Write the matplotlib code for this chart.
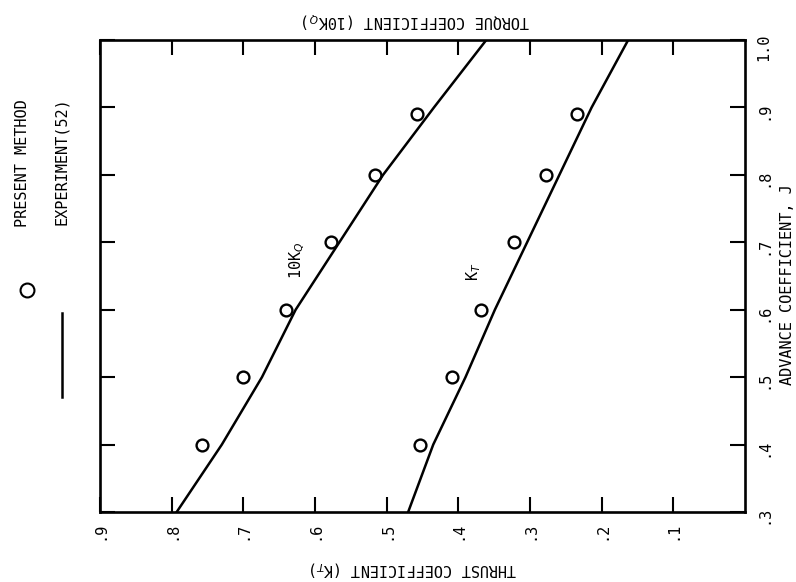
"""
Propeller open-water characteristics: present method vs experiment (rotated page)
"""

import matplotlib
matplotlib.use("Agg")
import matplotlib.pyplot as plt
from matplotlib.lines import Line2D

# advance coefficient for the computed points
j_points = [0.4, 0.5, 0.6, 0.7, 0.8, 0.89]
kt_points = [0.453, 0.409, 0.369, 0.322, 0.277, 0.235]
kq10_points = [0.757, 0.700, 0.641, 0.578, 0.516, 0.458]

# experiment (52) curves
j_exp = [0.3, 0.4, 0.5, 0.6, 0.7, 0.8, 0.9, 1.0]
kt_exp = [0.470, 0.435, 0.390, 0.349, 0.304, 0.259, 0.214, 0.163]
kq10_exp = [0.793, 0.730, 0.674, 0.627, 0.566, 0.505, 0.434, 0.361]

k_ticks = [0.9, 0.8, 0.7, 0.6, 0.5, 0.4, 0.3, 0.2, 0.1]
k_labels = [".9", ".8", ".7", ".6", ".5", ".4", ".3", ".2", ".1"]
j_ticks = [0.3, 0.4, 0.5, 0.6, 0.7, 0.8, 0.9, 1.0]
j_labels = [".3", ".4", ".5", ".6", ".7", ".8", ".9", "1.0"]

W, H = 796, 582


def fx(px):
    return px / W


def fy(py):
    return 1 - py / H


def main():
    # typewriter-ish lettering of the scanned figure
    plt.rcParams['font.family'] = ['DejaVu Sans Mono', 'DejaVu Sans']
    fig = plt.figure(figsize=(W / 100, H / 100), dpi=100)
    ax = fig.add_axes([fx(100), fy(512), fx(745) - fx(100), fy(40) - fy(512)])

    # the page is turned: K on the horizontal axis (reversed), J vertical
    ax.plot(kt_exp, j_exp, color='black', lw=1.8)
    ax.plot(kq10_exp, j_exp, color='black', lw=1.8)
    ax.plot(kt_points, j_points, 'o', mfc='none', mec='black', ms=8.5, mew=1.7)
    ax.plot(kq10_points, j_points, 'o', mfc='none', mec='black', ms=8.5, mew=1.7)

    ax.set_xlim(0.9, 0.0)
    ax.set_ylim(0.3, 1.0)
    ax.set_xticks(k_ticks, k_labels)
    ax.set_yticks(j_ticks, j_labels)
    ax.tick_params(axis='both', direction='in', length=11, width=1.5,
                   top=True, bottom=True, left=True, right=True,
                   labelleft=False, labelright=True, labelsize=11)
    ax.tick_params(axis='x', labelrotation=90, pad=7)
    ax.tick_params(axis='y', labelrotation=90, pad=8)
    for s in ax.spines.values():
        s.set_linewidth(1.9)

    ax.text(0.624, 0.674, "10K$_Q$", rotation=90, ha='center', va='center', fontsize=11)
    ax.text(0.379, 0.657, "K$_T$", rotation=90, ha='center', va='center', fontsize=11)

    fig.text(fx(413), fy(568), "THRUST COEFFICIENT (K$_T$)", rotation=180,
             ha='center', va='center', fontsize=11)
    fig.text(fx(416), fy(20), "TORQUE COEFFICIENT (10K$_Q$)", rotation=180,
             ha='center', va='center', fontsize=11)
    fig.text(fx(787), fy(285), "ADVANCE COEFFICIENT, J", rotation=90,
             ha='center', va='center', fontsize=11)

    # legend column at the left
    fig.text(fx(23), fy(163), "PRESENT METHOD", rotation=90,
             ha='center', va='center', fontsize=11)
    fig.text(fx(62), fy(161), "EXPERIMENT(52)", rotation=90,
             ha='center', va='center', fontsize=11)
    fig.add_artist(Line2D([fx(27)], [fy(290)], marker='o', mfc='none', mec='black',
                          ms=10, mew=1.5, transform=fig.transFigure))
    fig.add_artist(Line2D([fx(62), fx(62)], [fy(313), fy(397)], color='black',
                          lw=1.8, transform=fig.transFigure))

    fig.savefig("out.png", dpi=100)


if __name__ == '__main__':
    main()
